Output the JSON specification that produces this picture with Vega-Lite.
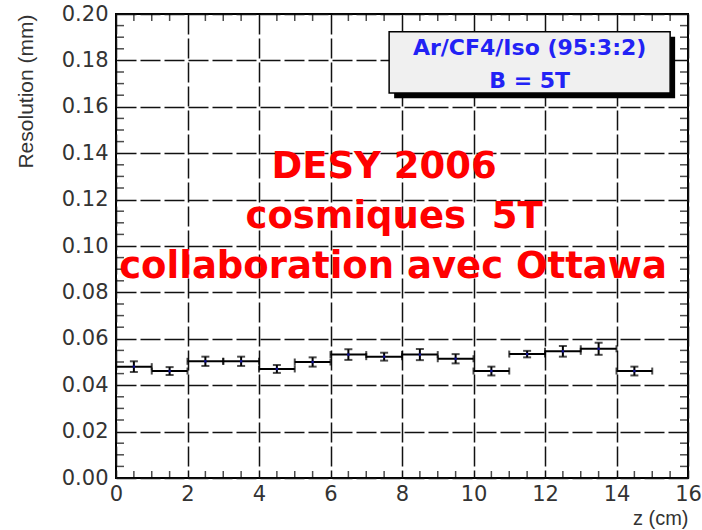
{
  "$schema": "https://vega.github.io/schema/vega-lite/v6.json",
  "width": 572,
  "height": 464,
  "autosize": "none",
  "padding": {"left": 116, "top": 14, "right": 14, "bottom": 52},
  "background": "white",
  "config": {"view": {"stroke": "#000", "strokeWidth": 2}},
  "datasets": {
    "pts": [
      {"z": 0.5, "zlo": 0, "zhi": 1, "res": 0.0480, "lo": 0.0457, "hi": 0.0503},
      {"z": 1.5, "zlo": 1, "zhi": 2, "res": 0.0461, "lo": 0.0444, "hi": 0.0478},
      {"z": 2.5, "zlo": 2, "zhi": 3, "res": 0.0503, "lo": 0.0483, "hi": 0.0523},
      {"z": 3.5, "zlo": 3, "zhi": 4, "res": 0.0503, "lo": 0.0483, "hi": 0.0523},
      {"z": 4.5, "zlo": 4, "zhi": 5, "res": 0.0470, "lo": 0.0453, "hi": 0.0487},
      {"z": 5.5, "zlo": 5, "zhi": 6, "res": 0.0500, "lo": 0.0480, "hi": 0.0520},
      {"z": 6.5, "zlo": 6, "zhi": 7, "res": 0.0532, "lo": 0.0509, "hi": 0.0555},
      {"z": 7.5, "zlo": 7, "zhi": 8, "res": 0.0523, "lo": 0.0506, "hi": 0.0540},
      {"z": 8.5, "zlo": 8, "zhi": 9, "res": 0.0532, "lo": 0.0508, "hi": 0.0556},
      {"z": 9.5, "zlo": 9, "zhi": 10, "res": 0.0514, "lo": 0.0494, "hi": 0.0534},
      {"z": 10.5, "zlo": 10, "zhi": 11, "res": 0.0461, "lo": 0.0442, "hi": 0.0480},
      {"z": 11.5, "zlo": 11, "zhi": 12, "res": 0.0534, "lo": 0.0520, "hi": 0.0548},
      {"z": 12.5, "zlo": 12, "zhi": 13, "res": 0.0546, "lo": 0.0523, "hi": 0.0569},
      {"z": 13.5, "zlo": 13, "zhi": 14, "res": 0.0557, "lo": 0.0531, "hi": 0.0583},
      {"z": 14.5, "zlo": 14, "zhi": 15, "res": 0.0461, "lo": 0.0442, "hi": 0.0480}
    ],
    "xminor": [
      {"v": 0.5}, {"v": 1}, {"v": 1.5}, {"v": 2.5}, {"v": 3}, {"v": 3.5}, {"v": 4.5}, {"v": 5}, {"v": 5.5},
      {"v": 6.5}, {"v": 7}, {"v": 7.5}, {"v": 8.5}, {"v": 9}, {"v": 9.5}, {"v": 10.5}, {"v": 11}, {"v": 11.5},
      {"v": 12.5}, {"v": 13}, {"v": 13.5}, {"v": 14.5}, {"v": 15}, {"v": 15.5}
    ],
    "yminor": [
      {"v": 0.005}, {"v": 0.01}, {"v": 0.015}, {"v": 0.025}, {"v": 0.03}, {"v": 0.035},
      {"v": 0.045}, {"v": 0.05}, {"v": 0.055}, {"v": 0.065}, {"v": 0.07}, {"v": 0.075},
      {"v": 0.085}, {"v": 0.09}, {"v": 0.095}, {"v": 0.105}, {"v": 0.11}, {"v": 0.115},
      {"v": 0.125}, {"v": 0.13}, {"v": 0.135}, {"v": 0.145}, {"v": 0.15}, {"v": 0.155},
      {"v": 0.165}, {"v": 0.17}, {"v": 0.175}, {"v": 0.185}, {"v": 0.19}, {"v": 0.195}
    ]
  },
  "data": {"name": "pts"},
  "layer": [
    {
      "mark": {"type": "rule", "color": "#000", "strokeWidth": 2},
      "encoding": {
        "x": {"field": "zlo", "type": "quantitative", "scale": {"domain": [0, 16], "nice": false},
          "axis": {"orient": "bottom", "tickCount": 8, "grid": true, "gridDash": [20, 4], "gridColor": "#111", "gridWidth": 1.5,
            "ticks": false, "domain": false,
            "labelFont": "DejaVu Sans", "labelFontSize": 21, "labelColor": "#333", "labelPadding": 5, "labelFlush": false, "labelOverlap": false,
            "title": "z (cm)", "titleAnchor": "end", "titleFont": "Liberation Sans", "titleFontSize": 20, "titleFontWeight": "normal", "titleColor": "#333", "titlePadding": 4}},
        "x2": {"field": "zhi"},
        "y": {"field": "res", "type": "quantitative", "scale": {"domain": [0, 0.2], "nice": false},
          "axis": {"orient": "left", "tickCount": 10, "format": ".2f", "grid": true, "gridDash": [20, 4], "gridColor": "#111", "gridWidth": 1.5,
            "ticks": false, "domain": false,
            "labelFont": "DejaVu Sans", "labelFontSize": 21, "labelColor": "#333", "labelPadding": 8, "labelFlush": false, "labelOverlap": false,
            "title": "Resolution (mm)", "titleAnchor": "end", "titleFont": "Liberation Sans", "titleFontSize": 21, "titleFontWeight": "normal", "titleColor": "#333", "titlePadding": 25}}
      }
    },
    {
      "data": {"name": "xminor"},
      "mark": {"type": "tick", "orient": "vertical", "color": "#000", "size": 7, "thickness": 1.5, "yOffset": -3.5},
      "encoding": {
        "x": {"field": "v", "type": "quantitative"},
        "y": {"datum": 0, "type": "quantitative"}
      }
    },
    {
      "data": {"name": "xminor"},
      "mark": {"type": "tick", "orient": "vertical", "color": "#000", "size": 7, "thickness": 1.5, "yOffset": 3.5},
      "encoding": {
        "x": {"field": "v", "type": "quantitative"},
        "y": {"datum": 0.2, "type": "quantitative"}
      }
    },
    {
      "data": {"name": "yminor"},
      "mark": {"type": "tick", "orient": "horizontal", "color": "#000", "size": 8, "thickness": 1.5, "xOffset": 4},
      "encoding": {
        "y": {"field": "v", "type": "quantitative"},
        "x": {"datum": 0, "type": "quantitative"}
      }
    },
    {
      "data": {"name": "yminor"},
      "mark": {"type": "tick", "orient": "horizontal", "color": "#000", "size": 8, "thickness": 1.5, "xOffset": -4},
      "encoding": {
        "y": {"field": "v", "type": "quantitative"},
        "x": {"datum": 16, "type": "quantitative"}
      }
    },
    {
      "mark": {"type": "tick", "orient": "vertical", "color": "#000", "size": 7, "thickness": 2},
      "encoding": {
        "x": {"field": "zlo", "type": "quantitative"},
        "y": {"field": "res", "type": "quantitative"}
      }
    },
    {
      "mark": {"type": "tick", "orient": "vertical", "color": "#000", "size": 7, "thickness": 2},
      "encoding": {
        "x": {"field": "zhi", "type": "quantitative"},
        "y": {"field": "res", "type": "quantitative"}
      }
    },
    {
      "mark": {"type": "rule", "color": "#000", "strokeWidth": 2},
      "encoding": {
        "x": {"field": "z", "type": "quantitative"},
        "y": {"field": "lo", "type": "quantitative"},
        "y2": {"field": "hi"}
      }
    },
    {
      "mark": {"type": "tick", "orient": "horizontal", "color": "#000", "size": 8, "thickness": 2},
      "encoding": {
        "x": {"field": "z", "type": "quantitative"},
        "y": {"field": "lo", "type": "quantitative"}
      }
    },
    {
      "mark": {"type": "tick", "orient": "horizontal", "color": "#000", "size": 8, "thickness": 2},
      "encoding": {
        "x": {"field": "z", "type": "quantitative"},
        "y": {"field": "hi", "type": "quantitative"}
      }
    },
    {
      "mark": {"type": "point", "shape": "square", "filled": true, "color": "#1a1acc", "size": 6},
      "encoding": {
        "x": {"field": "z", "type": "quantitative"},
        "y": {"field": "res", "type": "quantitative"}
      }
    },
    {
      "data": {"values": [{"box": "shadow"}]},
      "mark": {"type": "rect", "color": "#000"},
      "encoding": {
        "x": {"datum": 7.78, "type": "quantitative"},
        "x2": {"datum": 15.64},
        "y": {"datum": 0.1637, "type": "quantitative"},
        "y2": {"datum": 0.1902}
      }
    },
    {
      "data": {"values": [{"box": "legend"}]},
      "mark": {"type": "rect", "fill": "#f0f0f0", "stroke": "#000", "strokeWidth": 1.5},
      "encoding": {
        "x": {"datum": 7.64, "type": "quantitative"},
        "x2": {"datum": 15.5},
        "y": {"datum": 0.1659, "type": "quantitative"},
        "y2": {"datum": 0.1924}
      }
    },
    {
      "data": {"values": [{"t": "Ar/CF4/Iso (95:3:2)"}]},
      "mark": {"type": "text", "font": "DejaVu Sans", "fontWeight": "bold", "fontSize": 22, "color": "#2222f5", "align": "center", "baseline": "alphabetic"},
      "encoding": {
        "x": {"datum": 11.57, "type": "quantitative"},
        "y": {"datum": 0.1823, "type": "quantitative"},
        "text": {"field": "t"}
      }
    },
    {
      "data": {"values": [{"t": "B = 5T"}]},
      "mark": {"type": "text", "font": "DejaVu Sans", "fontWeight": "bold", "fontSize": 22, "color": "#2222f5", "align": "center", "baseline": "alphabetic"},
      "encoding": {
        "x": {"datum": 11.57, "type": "quantitative"},
        "y": {"datum": 0.1681, "type": "quantitative"},
        "text": {"field": "t"}
      }
    },
    {
      "data": {"values": [{"t": "DESY 2006"}]},
      "mark": {"type": "text", "font": "DejaVu Sans", "fontWeight": "bold", "fontSize": 37, "color": "#ff0000", "align": "center", "baseline": "alphabetic"},
      "encoding": {
        "x": {"datum": 7.5, "type": "quantitative"},
        "y": {"datum": 0.1293, "type": "quantitative"},
        "text": {"field": "t"}
      }
    },
    {
      "data": {"values": [{"t": "cosmiques \u00a05T"}]},
      "mark": {"type": "text", "font": "DejaVu Sans", "fontWeight": "bold", "fontSize": 37, "color": "#ff0000", "align": "center", "baseline": "alphabetic"},
      "encoding": {
        "x": {"datum": 7.78, "type": "quantitative"},
        "y": {"datum": 0.1078, "type": "quantitative"},
        "text": {"field": "t"}
      }
    },
    {
      "data": {"values": [{"t": "collaboration avec Ottawa"}]},
      "mark": {"type": "text", "font": "DejaVu Sans", "fontWeight": "bold", "fontSize": 37, "color": "#ff0000", "align": "center", "baseline": "alphabetic"},
      "encoding": {
        "x": {"datum": 7.75, "type": "quantitative"},
        "y": {"datum": 0.0862, "type": "quantitative"},
        "text": {"field": "t"}
      }
    }
  ]
}
